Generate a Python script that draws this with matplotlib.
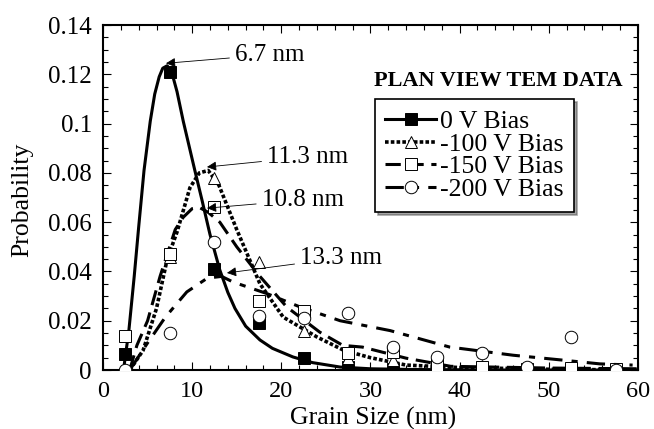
import matplotlib
matplotlib.use("Agg")
import matplotlib.pyplot as plt
from matplotlib.lines import Line2D
from matplotlib.ticker import MultipleLocator

plt.rcParams['font.family'] = ['Liberation Serif', 'DejaVu Serif']

# measured points (grain size bins)
grain = [2.5, 7.5, 12.5, 17.5, 22.5, 27.5, 32.5, 37.5, 42.5, 47.5, 52.5, 57.5]
p_0V = [0.0065, 0.121, 0.041, 0.019, 0.005, 0.0012, 0.0006, 0.0003, 0.0002, 0.0001, 0.0001, 0.0]
p_100V = [0.0, 0.046, 0.078, 0.044, 0.016, 0.005, 0.004, 0.002, 0.0015, 0.001, 0.0008, 0.0003]
p_150V = [0.014, 0.047, 0.066, 0.028, 0.024, 0.007, 0.0075, 0.002, 0.0013, 0.0006, 0.0008, 0.0003]
p_200V = [0.0, 0.015, 0.052, 0.022, 0.021, 0.023, 0.0093, 0.0053, 0.0069, 0.0012, 0.0134, 0.0002]

# fitted curves
fit0_x = [2.3, 2.9, 3.5, 4.0, 4.6, 5.3, 5.8, 6.3, 6.7, 7.2, 7.7, 8.3, 9.0, 10.3, 11.1, 12.0, 13.1, 14.0,
          14.8, 16.0, 17.6, 19.0, 21.3, 23.5, 26.6, 30, 35, 45, 60]
fit0_y = [0.0, 0.016, 0.038, 0.058, 0.081, 0.101, 0.112, 0.119, 0.1225, 0.1235, 0.121, 0.113, 0.101,
          0.081, 0.069, 0.055, 0.0406, 0.0315, 0.0250, 0.0178, 0.0122, 0.0088, 0.0053, 0.0030,
          0.0012, 0.0005, 0.0002, 0.0, 0.0]
fit100_x = [3.0, 4.5, 6.0, 7.2, 8.3, 9.75, 10.8, 11.8, 13.0, 15.0, 17.6, 20.2, 24.0, 27.0, 30.0, 34.0, 40.0, 50.0, 60.0]
fit100_y = [0.0, 0.008, 0.025, 0.045, 0.056, 0.074, 0.080, 0.081, 0.075, 0.057, 0.035, 0.0215, 0.0134, 0.008, 0.005, 0.002, 0.001, 0.0003, 0.0]
fit150_x = [3.0, 3.8, 5.0, 6.4, 8.1, 9.0, 10.0, 10.8, 11.8, 13.1, 15.0, 17.6, 20.6, 24.3, 26.9, 29.1, 34.0, 39.0, 50.0, 60.0]
fit150_y = [0.0, 0.010, 0.020, 0.038, 0.057, 0.062, 0.0655, 0.066, 0.064, 0.060, 0.050, 0.038, 0.0256, 0.0154, 0.010, 0.0093, 0.0048, 0.0015, 0.0008, 0.0005]
fit200_x = [3.0, 5.0, 7.0, 9.4, 11.7, 13.3, 14.6, 18.4, 22.1, 26.6, 32.2, 38.9, 46.0, 51.6, 55.7, 59.4]
fit200_y = [0.0, 0.011, 0.0215, 0.0317, 0.0373, 0.038, 0.0357, 0.031, 0.0256, 0.020, 0.016, 0.0093, 0.006, 0.004, 0.0025, 0.002]

labels = ['0 V Bias', '-100 V Bias', '-150 V Bias', '-200 V Bias']
peak_labels = ['6.7 nm', '11.3 nm', '10.8 nm', '13.3 nm']
peak_tips = [(7.06, 0.1245), (11.66, 0.0824), (11.66, 0.0657), (13.9, 0.0394)]
peak_text = [(14.8, 0.128), (18.4, 0.0865), (17.8, 0.069), (22.1, 0.0455)]

fig = plt.figure(figsize=(6.54, 4.29), dpi=100)
ax = fig.add_axes([0.1575, 0.1375, 0.818, 0.804])

styles = [
    dict(ls='-', lw=2.2, marker='s', mfc='black'),
    dict(ls=(0, (1, 0.6)), lw=2.6, marker='^', mfc='white'),
    dict(ls=(0, (5, 2.5)), lw=2.2, marker='s', mfc='white'),
    dict(ls=(0, (6, 3, 2, 3)), lw=2.2, marker='o', mfc='white'),
]
fits = [(fit0_x, fit0_y), (fit100_x, fit100_y), (fit150_x, fit150_y), (fit200_x, fit200_y)]
points = [p_0V, p_100V, p_150V, p_200V]

for (fx, fy), st in zip(fits, styles):
    ax.plot(fx, fy, color='black', ls=st['ls'], lw=st['lw'], zorder=2,
            solid_capstyle='butt', dash_capstyle='butt', solid_joinstyle='round')
for pts, st in zip(points, styles):
    ax.plot(grain, pts, ls='none', marker=st['marker'], ms=9, mfc=st['mfc'],
            mec='black', mew=0.7, zorder=3)

for lab, tip, txt in zip(peak_labels, peak_tips, peak_text):
    ax.annotate(lab, xy=tip, xytext=txt, fontsize=18, va='center', ha='left',
                arrowprops=dict(arrowstyle='-|>', lw=0.6, color='black',
                                mutation_scale=14, shrinkA=2, shrinkB=0))

ax.text(30.4, 0.1175, 'PLAN VIEW TEM DATA', fontsize=16, fontweight='bold',
        va='center', ha='left')

handles = [Line2D([], [], color='black', ls=st['ls'], lw=st['lw'], marker=st['marker'],
                  ms=9, mfc=st['mfc'], mec='black', mew=0.7) for st in styles]
leg = ax.legend(handles, labels, loc='upper left', bbox_to_anchor=(0.508, 0.785),
                fontsize=18.5, frameon=True, fancybox=False, shadow=True,
                handlelength=2.0, handletextpad=0.15, labelspacing=0.0,
                borderpad=0.4, borderaxespad=0)
leg.get_frame().set_edgecolor('black')
leg.get_frame().set_linewidth(1.2)

ax.set_xlim(0, 60)
ax.set_ylim(0, 0.14)
ax.set_xticks([0, 10, 20, 30, 40, 50, 60])
ax.set_xticklabels(['0', '10', '20', '30', '40', '50', '60'])
ax.set_yticks([0, 0.02, 0.04, 0.06, 0.08, 0.1, 0.12, 0.14])
ax.set_yticklabels(['0', '0.02', '0.04', '0.06', '0.08', '0.1', '0.12', '0.14'])
ax.xaxis.set_minor_locator(MultipleLocator(2))
ax.yaxis.set_minor_locator(MultipleLocator(0.005))
ax.tick_params(which='both', direction='in', top=True, right=True, width=0.8)
ax.tick_params(which='major', length=6)
ax.tick_params(which='minor', length=3.5)
ax.tick_params(axis='x', pad=8, labelsize=17.5)
ax.tick_params(axis='y', pad=8, labelsize=18)
for s in ax.spines.values():
    s.set_linewidth(1.5)
ax.set_xlabel('Grain Size (nm)', fontsize=18.5)
ax.set_ylabel('Probability', fontsize=18.5)
ax.xaxis.set_label_coords(0.5056, -0.108)
ax.yaxis.set_label_coords(-0.131, 0.493)

fig.savefig('out.png', dpi=100)
